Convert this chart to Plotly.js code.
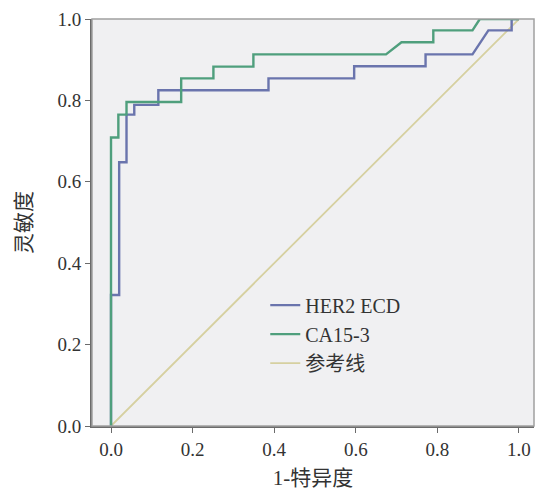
<!DOCTYPE html>
<html>
<head>
<meta charset="utf-8">
<script src="https://cdn.plot.ly/plotly-3.0.1.min.js"></script>
<style>html,body{margin:0;padding:0;background:#fff;}#chart{width:536px;height:492px;}</style>
</head>
<body>
<div id="chart"></div>
<script>
// HER2 ECD ROC curve (1-specificity, sensitivity)
var her2X = [0, 0, 0.02, 0.02, 0.038, 0.038, 0.057, 0.057, 0.116, 0.116, 0.386, 0.386, 0.596, 0.596, 0.771, 0.771, 0.886, 0.925, 0.982, 0.982, 1];
var her2Y = [0, 0.322, 0.322, 0.648, 0.648, 0.765, 0.765, 0.789, 0.789, 0.825, 0.825, 0.854, 0.854, 0.884, 0.884, 0.913, 0.913, 0.972, 0.972, 1, 1];
// CA15-3 ROC curve
var caX = [0, 0, 0.018, 0.018, 0.038, 0.038, 0.172, 0.172, 0.251, 0.251, 0.349, 0.349, 0.674, 0.712, 0.79, 0.79, 0.886, 0.904, 1];
var caY = [0, 0.709, 0.709, 0.765, 0.765, 0.796, 0.796, 0.854, 0.854, 0.883, 0.883, 0.913, 0.913, 0.943, 0.943, 0.972, 0.972, 1, 1];
// reference line
var refX = [0, 1];
var refY = [0, 1];
var seriesNames = ["HER2 ECD", "CA15-3", "参考线"];
var tickVals = [0, 0.2, 0.4, 0.6, 0.8, 1.0];

var serif = "Liberation Serif, 'Times New Roman', 'Noto Sans CJK SC', serif";

var traces = [
  {x: refX, y: refY, name: seriesNames[2], mode: "lines", line: {color: "#d6d0a0", width: 1.8}, legendrank: 3},
  {x: her2X, y: her2Y, name: seriesNames[0], mode: "lines", line: {color: "#6a74ad", width: 2.4}, legendrank: 1},
  {x: caX, y: caY, name: seriesNames[1], mode: "lines", line: {color: "#4f9f7d", width: 2.4}, legendrank: 2}
];

var layout = {
  width: 536, height: 492,
  margin: {l: 92, r: 2, t: 19, b: 66},
  paper_bgcolor: "#ffffff",
  plot_bgcolor: "#f0f0f2",
  font: {family: serif, size: 19, color: "#333"},
  showlegend: true,
  legend: {x: 0.392, y: 0.345, xanchor: "left", yanchor: "top", bgcolor: "rgba(0,0,0,0)",
           font: {family: serif, size: 20, color: "#333"}, traceorder: "normal"},
  xaxis: {
    range: [-0.0466, 1.0368], tickvals: tickVals, tickformat: ".1f",
    showgrid: false, zeroline: false, showline: true, linecolor: "#6b6b6b", linewidth: 2,
    ticks: "outside", ticklen: 5, tickcolor: "#6b6b6b", tickwidth: 1,
    title: {text: "1-特异度", font: {family: serif, size: 21, color: "#333"}, standoff: 12}
  },
  yaxis: {
    range: [0, 1], tickvals: tickVals, tickformat: ".1f",
    showgrid: false, zeroline: false, showline: true, linecolor: "#6b6b6b", linewidth: 2,
    ticks: "outside", ticklen: 5, tickcolor: "#6b6b6b", tickwidth: 1,
    title: {text: "灵敏度", font: {family: serif, size: 21, color: "#333"}, standoff: 20}
  },
  shapes: [{type: "rect", xref: "paper", yref: "paper", x0: 0, x1: 1, y0: 0, y1: 1,
            line: {color: "#a0a0a0", width: 1.5}, layer: "above"}]
};

Plotly.newPlot("chart", traces, layout, {displayModeBar: false, staticPlot: true});
</script>
</body>
</html>
